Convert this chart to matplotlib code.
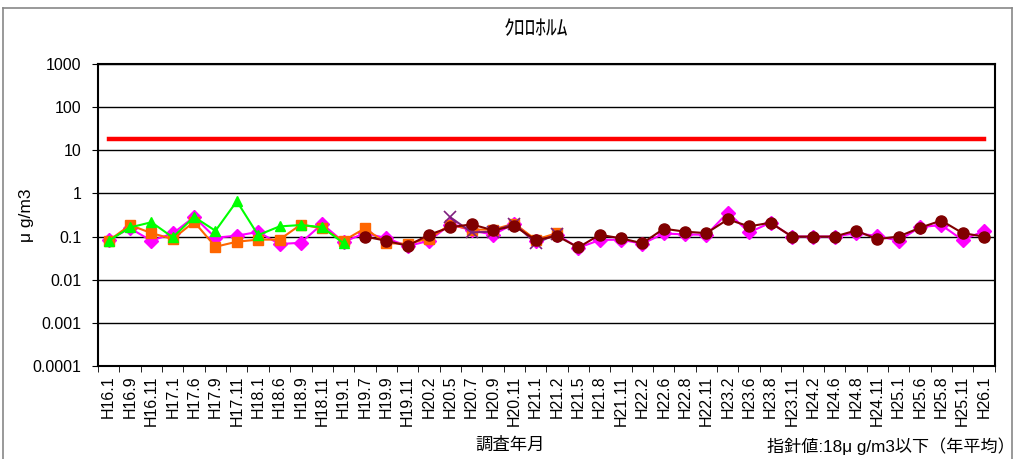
import matplotlib
matplotlib.use("Agg")
from matplotlib import pyplot as plt
from matplotlib.lines import Line2D
import numpy as np

plt.rcParams['font.family'] = ['Liberation Sans', 'Noto Sans CJK JP', 'DejaVu Sans']

labels = ["H16.1", "H16.9", "H16.11", "H17.1", "H17.6", "H17.9", "H17.11", "H18.1",
          "H18.6", "H18.9", "H18.11", "H19.1", "H19.7", "H19.9", "H19.11", "H20.2",
          "H20.5", "H20.7", "H20.9", "H20.11", "H21.1", "H21.2", "H21.5", "H21.8",
          "H21.11", "H22.2", "H22.6", "H22.8", "H22.11", "H23.2", "H23.6", "H23.8",
          "H23.11", "H24.2", "H24.6", "H24.8", "H24.11", "H25.1", "H25.6", "H25.8",
          "H25.11", "H26.1"]

# magenta diamonds, all dates
site_a = [0.085, 0.155, 0.08, 0.118, 0.285, 0.094, 0.105, 0.128, 0.067, 0.072, 0.195,
          0.075, 0.12, 0.092, 0.06, 0.08, 0.19, 0.14, 0.11, 0.2, 0.08, 0.11, 0.055,
          0.083, 0.085, 0.068, 0.118, 0.112, 0.11, 0.36, 0.125, 0.21, 0.1, 0.1, 0.1,
          0.12, 0.103, 0.08, 0.165, 0.185, 0.083, 0.135]
# orange squares, H16.1 - H21.2
site_b = [0.08, 0.185, 0.12, 0.088, 0.22, 0.058, 0.076, 0.085, 0.085, 0.19, 0.155,
          0.08, 0.155, 0.07, 0.068, 0.09, 0.19, 0.145, 0.145, 0.2, 0.085, 0.12]
# green triangles, H16.1 - H19.1
site_c = [0.08, 0.163, 0.215, 0.096, 0.285, 0.136, 0.66, 0.108, 0.172, 0.185, 0.165, 0.07]
# purple crosses, H20.5 - H21.2
site_d = [0.28, 0.125, 0.13, 0.2, 0.07, 0.115]
# dark red circles, H19.7 - H26.1
site_e = [0.1, 0.08, 0.061, 0.11, 0.165, 0.192, 0.14, 0.176, 0.083, 0.103, 0.056,
          0.11, 0.091, 0.07, 0.152, 0.13, 0.12, 0.25, 0.172, 0.21, 0.1, 0.1, 0.1,
          0.138, 0.087, 0.1, 0.16, 0.235, 0.12, 0.1]
guideline = 18

x = np.arange(len(labels))

fig = plt.figure(figsize=(10.16, 4.59), dpi=100)
ax = fig.add_axes([0.0965, 0.2026, 0.8825, 0.658])

ax.plot(x, [guideline] * len(x), color='#FF0000', lw=3.2, zorder=2)
ax.plot(x, site_a, color='#FF00FF', marker='D', ms=7, lw=1.5, zorder=3)
ax.plot(x[:len(site_b)], site_b, color='#FF6600', marker='s', ms=7, lw=1.5, zorder=4)
ax.plot(x[:len(site_c)], site_c, color='#00FF00', marker='^', ms=7, lw=1.5, zorder=5)
ax.plot(x[16:16 + len(site_d)], site_d, color='#7F1F7F', marker='x', ms=8, mew=1.2,
        lw=1.5, zorder=4)
ax.plot(x[12:12 + len(site_e)], site_e, color='#800000', marker='o', ms=8, lw=1.5, zorder=6)

ax.set_yscale('log')
ax.set_ylim(0.0001, 1000)
ax.set_yticks([0.0001, 0.001, 0.01, 0.1, 1, 10, 100, 1000])
ax.set_yticklabels(["0.0001", "0.001", "0.01", "0.1", "1", "10", "100", "1000"])
ax.minorticks_off()
ax.yaxis.grid(True, color='black', lw=1)
ax.set_axisbelow(True)

ax.set_xlim(-0.5, len(labels) - 0.5)
ax.set_xticks(x)
ax.set_xticklabels(labels, rotation=90)
ax.set_xticks(np.arange(len(labels) + 1) - 0.5, minor=True)
ax.tick_params(axis='x', which='major', length=0, pad=7, labelsize=11.5)
ax.tick_params(axis='x', which='minor', length=4, direction='out')
ax.tick_params(axis='y', length=4, direction='out', pad=8, labelsize=11.5)
for s in ax.spines.values():
    s.set_linewidth(1.5)

ax.set_ylabel("μ g/m3", fontsize=12.5)
ax.yaxis.set_label_coords(-0.071, 0.5)
ax.set_xlabel("調査年月", fontsize=12.5)
ax.xaxis.set_label_coords(0.46, -0.235)
fig.text(0.528, 0.935, "ｸﾛﾛﾎﾙﾑ", ha='center', va='center', fontsize=15.5)
fig.text(0.999, 0.008, "指針値:18μ g/m3以下（年平均）", ha='right', va='bottom', fontsize=12.3)

# outer chart border
for xs, ys in [([0.003, 0.003], [0.0, 0.983]), ([0.003, 0.996], [0.983, 0.983]),
               ([0.996, 0.996], [0.0, 0.983])]:
    fig.add_artist(Line2D(xs, ys, color='#888888', lw=1.2, transform=fig.transFigure))

fig.savefig("out.png", dpi=100)
